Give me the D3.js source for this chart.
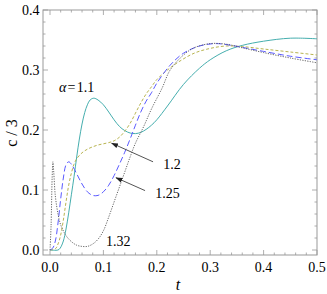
<!DOCTYPE html>
<html>
<head>
<meta charset="utf-8">
<script src="https://cdn.jsdelivr.net/npm/d3@7"></script>
<style>
  body { margin: 0; background: #fff; }
  svg text { font-family: 'Liberation Serif', 'Times New Roman', Tinos, serif !important; }
</style>
</head>
<body>
<div id="chart"></div>
<script>
// curves: [t, c/3]
var alpha11 = [[0,0],[0.015,0],[0.019,0.003],[0.025,0.015],[0.03,0.035],[0.035,0.062],[0.04,0.092],[0.045,0.122],[0.05,0.155],[0.055,0.185],[0.06,0.21],[0.065,0.229],[0.07,0.242],[0.075,0.25],[0.082,0.253],[0.09,0.25],[0.1,0.242],[0.11,0.23],[0.12,0.217],[0.13,0.206],[0.14,0.199],[0.15,0.195],[0.16,0.194],[0.17,0.196],[0.18,0.201],[0.19,0.208],[0.2,0.217],[0.22,0.24],[0.25,0.276],[0.28,0.303],[0.3,0.317],[0.33,0.332],[0.36,0.341],[0.4,0.348],[0.45,0.353],[0.5,0.352]];
var alpha12 = [[0,0],[0.01,0.002],[0.015,0.01],[0.02,0.025],[0.025,0.05],[0.03,0.08],[0.035,0.108],[0.04,0.128],[0.045,0.143],[0.05,0.152],[0.06,0.162],[0.07,0.168],[0.08,0.172],[0.09,0.175],[0.1,0.177],[0.11,0.179],[0.12,0.182],[0.13,0.188],[0.14,0.198],[0.15,0.211],[0.16,0.228],[0.17,0.245],[0.18,0.26],[0.19,0.272],[0.2,0.284],[0.22,0.3],[0.24,0.313],[0.27,0.328],[0.3,0.336],[0.33,0.34],[0.36,0.339],[0.4,0.335],[0.45,0.33],[0.5,0.325]];
var alpha125 = [[0,0],[0.005,0.003],[0.01,0.015],[0.015,0.045],[0.02,0.085],[0.025,0.12],[0.03,0.142],[0.035,0.147],[0.04,0.143],[0.05,0.127],[0.06,0.11],[0.07,0.097],[0.08,0.091],[0.09,0.091],[0.1,0.097],[0.11,0.108],[0.12,0.124],[0.13,0.143],[0.14,0.163],[0.15,0.185],[0.16,0.208],[0.17,0.23],[0.18,0.248],[0.19,0.262],[0.2,0.278],[0.225,0.308],[0.25,0.328],[0.28,0.34],[0.31,0.344],[0.34,0.341],[0.37,0.336],[0.4,0.331],[0.45,0.323],[0.5,0.317]];
var alpha132 = [[0,0],[0.002,0.04],[0.004,0.12],[0.0055,0.147],[0.007,0.13],[0.01,0.09],[0.015,0.06],[0.02,0.042],[0.03,0.024],[0.04,0.014],[0.05,0.008],[0.06,0.006],[0.07,0.006],[0.08,0.01],[0.09,0.018],[0.1,0.032],[0.11,0.055],[0.12,0.08],[0.13,0.105],[0.14,0.13],[0.15,0.155],[0.16,0.178],[0.175,0.205],[0.19,0.235],[0.21,0.27],[0.225,0.3],[0.25,0.325],[0.27,0.337],[0.3,0.344],[0.33,0.343],[0.36,0.337],[0.4,0.329],[0.45,0.32],[0.5,0.312]];

var xTicks = [0, 0.1, 0.2, 0.3, 0.4, 0.5];
var yTicks = [0, 0.1, 0.2, 0.3, 0.4];
var labels = ["α = 1.1", "1.2", "1.25", "1.32"];

var FONT = "'Liberation Serif', 'Times New Roman', Tinos, serif";
var width = 327, height = 294;
var svg = d3.select('#chart').append('svg')
    .attr('width', width).attr('height', height)
    .attr('font-family', FONT);

var x = d3.scaleLinear().domain([0, 0.5]).range([50, 317]);
var y = d3.scaleLinear().domain([0, 0.4]).range([250, 10]);
var fLeft = 43, fRight = 317, fTop = 10, fBottom = 255;

var frameCol = '#999';

// frame
svg.append('rect')
    .attr('x', fLeft).attr('y', fTop)
    .attr('width', fRight - fLeft).attr('height', fBottom - fTop)
    .attr('fill', 'none').attr('stroke', frameCol).attr('stroke-width', 1);

// ticks (major + minor on all four sides)
var xMinor = d3.range(0, 0.5001, 0.02);
var yMinor = d3.range(0, 0.4001, 0.02);
function isMajor(v) { return Math.abs(v * 10 - Math.round(v * 10)) < 1e-6; }
var tk = svg.append('g').attr('stroke', frameCol).attr('stroke-width', 0.8);
xMinor.forEach(function(v) {
  var len = isMajor(v) ? 5 : 2.5;
  tk.append('line').attr('x1', x(v)).attr('x2', x(v)).attr('y1', fBottom).attr('y2', fBottom - len);
  tk.append('line').attr('x1', x(v)).attr('x2', x(v)).attr('y1', fTop).attr('y2', fTop + len);
});
yMinor.forEach(function(v) {
  var len = isMajor(v) ? 5 : 2.5;
  tk.append('line').attr('y1', y(v)).attr('y2', y(v)).attr('x1', fLeft).attr('x2', fLeft + len);
  tk.append('line').attr('y1', y(v)).attr('y2', y(v)).attr('x1', fRight).attr('x2', fRight - len);
});

function txt(sel) { return sel.style('font-family', FONT); }

txt(svg.selectAll('.xl').data(xTicks).enter().append('text'))
    .attr('x', function(d) { return x(d); }).attr('y', 272)
    .attr('text-anchor', 'middle').attr('font-size', 14)
    .text(function(d) { return d3.format('.1f')(d); });
txt(svg.selectAll('.yl').data(yTicks).enter().append('text'))
    .attr('x', 39.5).attr('y', function(d) { return y(d) + 5; })
    .attr('text-anchor', 'end').attr('font-size', 14)
    .text(function(d) { return d3.format('.1f')(d); });

// axis titles
txt(svg.append('text')).attr('x', 178).attr('y', 290)
    .attr('text-anchor', 'middle').attr('font-size', 16).attr('font-style', 'italic')
    .text('t');
txt(svg.append('text')).attr('transform', 'translate(17,133) rotate(-90)')
    .attr('text-anchor', 'middle').attr('font-size', 16)
    .text('c / 3');

// curves
var line = d3.line()
    .x(function(d) { return x(d[0]); })
    .y(function(d) { return y(d[1]); })
    .curve(d3.curveCatmullRom.alpha(0.5));

var series = [
  {data: alpha11, color: '#45aeae', dash: null, w: 1},
  {data: alpha12, color: '#b8b450', dash: '3,2', w: 1},
  {data: alpha125, color: '#5a5aff', dash: '6,3', w: 1},
  {data: alpha132, color: '#555', dash: '1.2,1.3', w: 0.9}
];
svg.selectAll('.curve').data(series).enter().append('path')
    .attr('d', function(d) { return line(d.data); })
    .attr('fill', 'none')
    .attr('stroke', function(d) { return d.color; })
    .attr('stroke-width', function(d) { return d.w; })
    .attr('stroke-dasharray', function(d) { return d.dash; });

// arrows
svg.append('defs').append('marker')
    .attr('id', 'ah').attr('viewBox', '0 0 10 10')
    .attr('refX', 9).attr('refY', 5)
    .attr('markerWidth', 7).attr('markerHeight', 7)
    .attr('orient', 'auto')
    .append('path').attr('d', 'M0,1.5L10,5L0,8.5Z').attr('fill', '#222');

var arrows = [
  {from: [0.193, 0.147], to: [0.1155, 0.178]},
  {from: [0.178, 0.099], to: [0.1236, 0.1205]}
];
svg.selectAll('.arr').data(arrows).enter().append('line')
    .attr('x1', function(d) { return x(d.from[0]); })
    .attr('y1', function(d) { return y(d.from[1]); })
    .attr('x2', function(d) { return x(d.to[0]); })
    .attr('y2', function(d) { return y(d.to[1]); })
    .attr('stroke', '#555').attr('stroke-width', 1)
    .attr('marker-end', 'url(#ah)');

// curve labels
var labelPos = [[0.017, 0.264], [0.212, 0.135], [0.197, 0.087], [0.105, 0.007]];
labels.forEach(function(l, i) {
  var t = txt(svg.append('text'))
      .attr('x', x(labelPos[i][0])).attr('y', y(labelPos[i][1]))
      .attr('font-size', 14);
  if (i === 0) {
    t.append('tspan').attr('font-style', 'italic').text('α');
    t.append('tspan').text('\u200a=\u200a1.1');
  } else {
    t.text(l);
  }
});
</script>
</body>
</html>
